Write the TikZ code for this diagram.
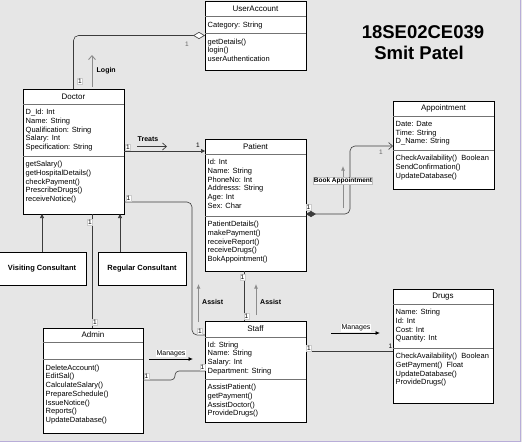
\documentclass[tikz,border=0pt]{standalone}
\usepackage{fontspec}
\setmainfont{Liberation Sans}
\usepackage{tikz}
\usetikzlibrary{positioning, arrows.meta, calc, shadows}
\definecolor{CanvasGray}{HTML}{E6E6E6}
\definecolor{FrameLilac}{HTML}{B8ADD8}
\definecolor{HintGray}{HTML}{8C8C8C}
\definecolor{LineGray}{HTML}{3C3C3C}

\begin{document}
\begin{tikzpicture}[x=1pt, y=-1pt,
    cls/.style={draw, fill=white, anchor=north west, inner sep=0pt, outer sep=0pt, line width=0.7pt,
                drop shadow={shadow xshift=1.3pt, shadow yshift=-1.3pt, opacity=0.5}},
    sub/.style={draw, fill=white, inner sep=0pt, outer sep=0pt, line width=0.7pt,
                font=\bfseries\fontsize{7.5}{9}\selectfont,
                drop shadow={shadow xshift=1.3pt, shadow yshift=-1.3pt, opacity=0.5}},
    ttl/.style={inner sep=0pt, font=\fontsize{8}{9}\selectfont},
    txt/.style={anchor=north west, inner sep=0pt, align=left, font=\fontsize{7.5}{8.75}\selectfont},
    div/.style={line width=0.4pt, black!55},
    conn/.style={line width=0.6pt, LineGray, rounded corners=5pt},
    gen/.style={-{Triangle[length=4pt, width=4pt]}, line width=0.6pt, LineGray},
    hint/.style={-{Latex[length=4.5pt, width=4pt]}, line width=0.9pt, HintGray},
    barb/.style={-{Straight Barb[length=4pt, width=7pt]}, line width=0.7pt},
    lbl/.style={inner sep=0.5pt, font=\bfseries\fontsize{7}{8}\selectfont},
    mlbl/.style={fill=white, inner sep=0.6pt, font=\fontsize{7}{8}\selectfont},
    one/.style={fill=white, draw=black!20, line width=0.3pt, inner sep=0.7pt, font=\fontsize{6.5}{7}\selectfont},
    onegr/.style={inner sep=0pt, text=black!60, font=\fontsize{6.5}{7}\selectfont},
    big/.style={inner sep=0pt, font=\bfseries\fontsize{18.5}{21}\selectfont}
]
  \useasboundingbox (0,0) rectangle (522,442);
  \fill[CanvasGray] (0,0) rectangle (522,442);
  \draw[FrameLilac, line width=1pt] (520,0) -- (520,441) -- (0,441);

  \node[big] (sid) at (423,32) {18SE02CE039};
  \node[big] (sname) at (419,53) {Smit Patel};

  \node[cls, minimum width=101pt, minimum height=69pt] (useracct) at (205,1) {};
  \node[ttl] (useracct-t) at (255.5,8.5) {UserAccount};
  \draw[div] (useracct.west |- 0,16) -- (useracct.east |- 0,16);
  \draw[div] (useracct.west |- 0,33) -- (useracct.east |- 0,33);
  \node[txt] (useracct-a) at (207.5,21.5) {Category: String};
  \node[txt] (useracct-m) at (207.5,38.5) {getDetails()\\login()\\userAuthentication};

  \node[cls, minimum width=101pt, minimum height=125pt] (doctor) at (23,89) {};
  \node[ttl] (doctor-t) at (73.5,96.5) {Doctor};
  \draw[div] (doctor.west |- 0,104) -- (doctor.east |- 0,104);
  \draw[div] (doctor.west |- 0,156) -- (doctor.east |- 0,156);
  \node[txt] (doctor-a) at (25.5,109) {D\_Id: Int\\Name: String\\Qualification: String\\Salary: Int\\Specification: String};
  \node[txt] (doctor-m) at (25.5,161) {getSalary()\\getHospitalDetails()\\checkPayment()\\PrescribeDrugs()\\receiveNotice()};

  \node[cls, minimum width=101pt, minimum height=132pt] (patient) at (205,139) {};
  \node[ttl] (patient-t) at (255.5,146.5) {Patient};
  \draw[div] (patient.west |- 0,154) -- (patient.east |- 0,154);
  \draw[div] (patient.west |- 0,216) -- (patient.east |- 0,216);
  \node[txt] (patient-a) at (207.5,159) {Id: Int\\Name: String\\PhoneNo: Int\\Addresss: String\\Age: Int\\Sex: Char};
  \node[txt] (patient-m) at (207.5,221) {PatientDetails()\\makePayment()\\receiveReport()\\receiveDrugs()\\BokAppointment()};

  \node[cls, minimum width=101pt, minimum height=88pt] (appointment) at (393,101) {};
  \node[ttl] (appointment-t) at (443.5,108.5) {Appointment};
  \draw[div] (appointment.west |- 0,116) -- (appointment.east |- 0,116);
  \draw[div] (appointment.west |- 0,150) -- (appointment.east |- 0,150);
  \node[txt] (appointment-a) at (395.5,121) {Date: Date\\Time: String\\D\_Name: String};
  \node[txt] (appointment-m) at (395.5,155) {CheckAvailability()~~Boolean\\SendConfirmation()\\UpdateDatabase()};

  \node[cls, minimum width=100pt, minimum height=114pt] (drugs) at (393,289) {};
  \node[ttl] (drugs-t) at (443,296.5) {Drugs};
  \draw[div] (drugs.west |- 0,304) -- (drugs.east |- 0,304);
  \draw[div] (drugs.west |- 0,348) -- (drugs.east |- 0,348);
  \node[txt] (drugs-a) at (395.5,309) {Name: String\\Id: Int\\Cost: Int\\Quantity: Int};
  \node[txt] (drugs-m) at (395.5,353) {CheckAvailability()~~Boolean\\GetPayment()~~Float\\UpdateDatabase()\\ProvideDrugs()};

  \node[cls, minimum width=101pt, minimum height=101pt] (staff) at (205,321) {};
  \node[ttl] (staff-t) at (255.5,328.5) {Staff};
  \draw[div] (staff.west |- 0,337) -- (staff.east |- 0,337);
  \draw[div] (staff.west |- 0,379) -- (staff.east |- 0,379);
  \node[txt] (staff-a) at (207.5,341.5) {Id: String\\Name: String\\Salary: Int\\Department: String};
  \node[txt] (staff-m) at (207.5,384) {AssistPatient()\\getPayment()\\AssistDoctor()\\ProvideDrugs()};

  \node[cls, minimum width=100pt, minimum height=105pt] (admin) at (43,328) {};
  \node[ttl] (admin-t) at (93,334.5) {Admin};
  \draw[div] (admin.west |- 0,342) -- (admin.east |- 0,342);
  \draw[div] (admin.west |- 0,359) -- (admin.east |- 0,359);
  \node[txt] (admin-m) at (45.5,364.5) {DeleteAccount()\\EditSal()\\CalculateSalary()\\PrepareSchedule()\\IssueNotice()\\Reports()\\UpdateDatabase()};

  \node[sub, minimum width=88pt, minimum height=33pt] (visiting) at (42,268.5) {Visiting Consultant};
  \node[sub, minimum width=88pt, minimum height=33pt] (regular) at (142,268.5) {Regular Consultant};

  \draw[conn, -{Diamond[open, fill=white, length=12pt, width=7pt]}] (doctor.north) |- (useracct.west);
  \node[one] (m-doc-up) at (80,81) {1};
  \node[onegr] (m-ua) at (187,44) {1};
  \coordinate (login-s) at (92,87);
  \coordinate (login-e) at (92,55);
  \draw[barb, HintGray, line width=0.9pt] (login-s) -- (login-e);
  \node[lbl, anchor=west] (login) at (96,71) {Login};

  \draw[conn, -{Triangle[length=4pt, width=4pt]}] (doctor.east |- 0,151) -- (patient.west |- 0,151);
  \node[one] (m-doc-tr) at (128,147) {1};
  \node[inner sep=0pt, font=\fontsize{6.5}{7}\selectfont] (m-pat-tr) at (198,145) {1};
  \node[lbl] (treats) at (148,139.5) {Treats};
  \coordinate (treats-s) at (137,146.5);
  \coordinate (treats-e) at (167,146.5);
  \draw[barb, LineGray] (treats-s) -- (treats-e);

  \draw[conn] (doctor.east |- 0,202) -- (192,202) -- (192,335) -- (staff.west |- 0,335);
  \node[one] (m-doc-st) at (128.5,198) {1};
  \node[one] (m-st-doc) at (200,331) {1};

  \draw[conn] (doctor.south -| 92,0) -- (admin.north -| 92,0);
  \node[one] (m-doc-ad) at (90,222) {1};
  \node[one] (m-ad-doc) at (95,322) {1};

  \draw[gen] (visiting.north) -- (visiting.north |- doctor.south);
  \draw[gen] (regular.north -| 120,0) -- (doctor.south -| 120,0);

  \draw[conn] (patient.south -| 244,0) -- (staff.north -| 244,0);
  \node[one] (m-pat-st) at (242.5,277) {1};
  \node[one] (m-st-pat) at (246.5,316) {1};
  \coordinate (assist1-s) at (198.5,322);
  \coordinate (assist1-e) at (198.5,284);
  \coordinate (assist2-s) at (256,315);
  \coordinate (assist2-e) at (256,284);
  \draw[hint] (assist1-s) -- (assist1-e);
  \draw[hint] (assist2-s) -- (assist2-e);
  \node[lbl, anchor=west] (assist1) at (201.5,302) {Assist};
  \node[lbl, anchor=west] (assist2) at (259.5,302) {Assist};

  \draw[conn] (staff.east |- 0,351) -- (drugs.west |- 0,351);
  \node[one] (m-st-dr) at (309,348) {1};
  \node[inner sep=0pt, font=\fontsize{6.5}{7}\selectfont] (m-dr-st) at (390.5,346) {1};
  \coordinate (mng1-s) at (331,333);
  \coordinate (mng1-e) at (380,333);
  \draw[-{Latex[length=4.5pt, width=4pt]}, line width=0.8pt] (mng1-s) -- (mng1-e);
  \node[mlbl] (manages1) at (356,328) {Manages};

  \draw[conn, rounded corners=4pt] (admin.east |- 0,380) -- (175,380) -- (175,371) -- (staff.west |- 0,371);
  \node[one] (m-ad-st) at (146.5,376) {1};
  \node[one] (m-st-ad) at (202.5,367) {1};
  \coordinate (mng2-s) at (149,359);
  \coordinate (mng2-e) at (193,359);
  \draw[-{Latex[length=4.5pt, width=4pt]}, line width=0.8pt] (mng2-s) -- (mng2-e);
  \node[mlbl] (manages2) at (171,353.5) {Manages};

  \draw[conn, {Diamond[length=10pt, width=6pt]}-{Straight Barb[length=4pt, width=7pt]}]
    (patient.east |- 0,214) -- (350,214) -- (350,146) -- (appointment.west |- 0,146);
  \node[one] (m-pat-ap) at (308.5,207) {1};
  \node[onegr] (m-ap) at (381,152) {1};
  \coordinate (book-s) at (343,208);
  \coordinate (book-e) at (343,166);
  \draw[hint] (book-s) -- (book-e);
  \node[lbl, fill=white, draw=black!25, line width=0.3pt, font=\bfseries\fontsize{6.5}{7.5}\selectfont] (book) at (343,181) {Book Appointment};
\end{tikzpicture}
\end{document}
